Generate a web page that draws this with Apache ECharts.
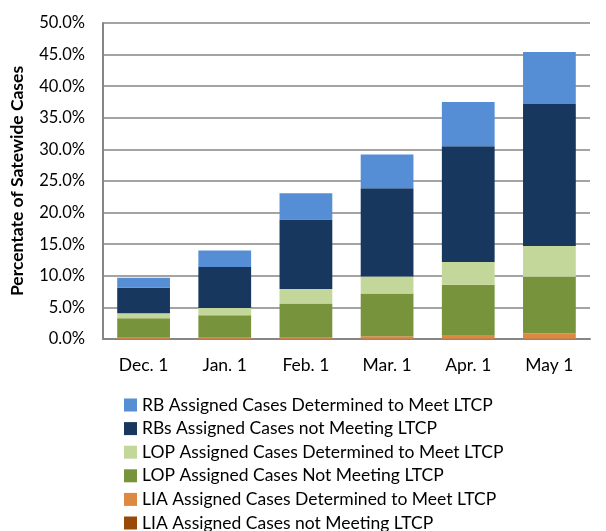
<!DOCTYPE html>
<html><head><meta charset="utf-8">
<script src="https://cdn.jsdelivr.net/npm/echarts@6/dist/echarts.min.js"></script>
<style>html,body{margin:0;padding:0;background:#fff}#c{width:606px;height:531px}</style>
</head><body><div id="c"></div>
<script>
const categories = ["Dec. 1", "Jan. 1", "Feb. 1", "Mar. 1", "Apr. 1", "May 1"];
const liaNotMeeting = [0.03, 0.03, 0.03, 0.05, 0.05, 0.05];
const liaMeet = [0.15, 0.15, 0.15, 0.4, 0.6, 0.85];
const lopNotMeeting = [3.12, 3.56, 5.42, 6.75, 7.92, 8.95];
const lopMeet = [0.76, 1.16, 2.3, 2.7, 3.63, 4.85];
const rbNotMeeting = [4.04, 6.5, 11.0, 13.95, 18.3, 22.5];
const rbMeet = [1.6, 2.6, 4.16, 5.35, 7.0, 8.2];
const yTicks = [0, 5, 10, 15, 20, 25, 30, 35, 40, 45, 50];

const names = {
  rbMeet: "RB Assigned Cases Determined to Meet LTCP",
  rbNot: "RBs Assigned Cases not Meeting LTCP",
  lopMeet: "LOP Assigned Cases Determined to Meet LTCP",
  lopNot: "LOP Assigned Cases Not Meeting LTCP",
  liaMeet: "LIA Assigned Cases Determined to Meet LTCP",
  liaNot: "LIA Assigned Cases not Meeting LTCP"
};
const FONT = "Lato";
function s(name, data, color) {
  return { name, type: "bar", stack: "a", data, barWidth: "65%",
    itemStyle: { color }, emphasis: { disabled: true } };
}
const chart = echarts.init(document.getElementById("c"), null, { renderer: "canvas" });
chart.setOption({
  animation: false,
  textStyle: { fontFamily: FONT },
  grid: { left: 100, right: 16, top: 23, bottom: 192 },
  xAxis: {
    type: "category", data: categories,
    axisLine: { lineStyle: { color: "#868686", width: 2 } },
    axisTick: { show: false },
    axisLabel: { color: "#000", fontSize: 17.5, fontFamily: FONT, margin: 17 }
  },
  yAxis: {
    type: "value", min: 0, max: 50, interval: 5,
    name: "Percentate of Satewide Cases", nameLocation: "middle", nameGap: 77,
    nameTextStyle: { color: "#000", fontSize: 17.5, fontWeight: "bold", fontFamily: FONT },
    axisLine: { show: true, lineStyle: { color: "#868686", width: 2 } },
    axisTick: { show: false },
    splitLine: { lineStyle: { color: "#868686", width: 1.5 } },
    axisLabel: { color: "#000", fontSize: 16.5, fontFamily: FONT, margin: 18,
      formatter: v => yTicks.includes(v) ? v.toFixed(1) + "%" : "" }
  },
  legend: {
    orient: "vertical", left: 119, top: 391, height: 200, itemWidth: 13, itemHeight: 13, itemGap: 5.6,
    icon: "rect",
    textStyle: { color: "#000", fontSize: 17.5, lineHeight: 18, fontFamily: FONT },
    data: [names.rbMeet, names.rbNot, names.lopMeet, names.lopNot, names.liaMeet, names.liaNot]
  },
  series: [
    s(names.liaNot, liaNotMeeting, "#984807"),
    s(names.liaMeet, liaMeet, "#DD8843"),
    s(names.lopNot, lopNotMeeting, "#77933C"),
    s(names.lopMeet, lopMeet, "#C4D79B"),
    s(names.rbNot, rbNotMeeting, "#17375E"),
    s(names.rbMeet, rbMeet, "#558ED5")
  ]
});
</script></body></html>
